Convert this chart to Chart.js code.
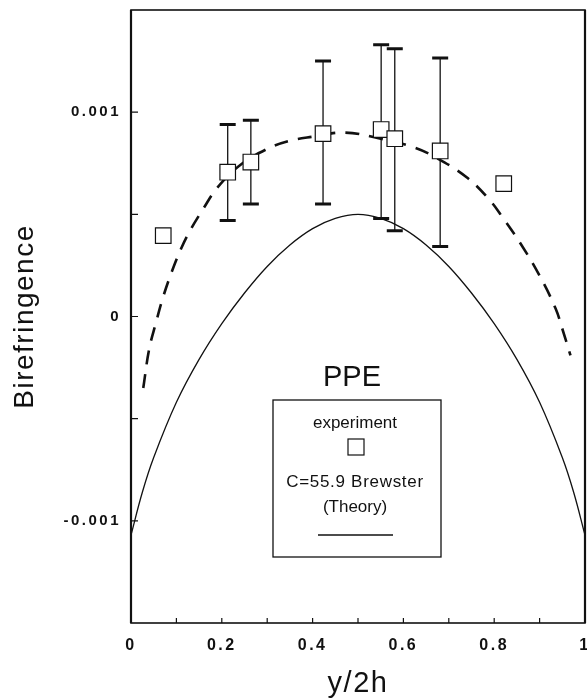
<!DOCTYPE html>
<html>
<head>
<meta charset="utf-8">
<script src="https://cdn.jsdelivr.net/npm/chart.js@4/dist/chart.umd.min.js"></script>
<style>
  html, body { margin: 0; padding: 0; background: #fff; }
  #wrap { width: 587px; height: 700px; }
</style>
</head>
<body>
<div id="wrap"><canvas id="biChart" width="587" height="700"></canvas></div>
<script>
// experiment: birefringence across the gap, with error bars where measured
const expX = [0.071, 0.213, 0.264, 0.423, 0.551, 0.581, 0.681, 0.821];
const expY = [0.000396, 0.000706, 0.000756, 0.000895, 0.000915, 0.00087, 0.00081, 0.00065];
const errLow = [null, 0.00047, 0.00055, 0.00055, 0.00048, 0.00042, 0.000343, null];
const errHigh = [null, 0.00094, 0.00096, 0.00125, 0.00133, 0.00131, 0.001265, null];

// Brewster theory curve, C = 55.9
const theoryX = [0, 0.025, 0.05, 0.1, 0.15, 0.2, 0.25, 0.3, 0.35, 0.4, 0.45, 0.5,
                 0.55, 0.6, 0.65, 0.7, 0.75, 0.8, 0.85, 0.9, 0.95, 0.975, 1];
const theoryY = [-0.00107, -0.00086, -0.00069, -0.00042, -0.00021, -0.000035, 0.000115, 0.000245,
                 0.00035, 0.00043, 0.00048, 0.0005, 0.00048, 0.00043, 0.00035, 0.000245, 0.000115,
                 -0.000035, -0.00021, -0.00042, -0.00069, -0.00086, -0.00107];

// dashed fit through the experiment
const fitX = [0.027, 0.04, 0.055, 0.07, 0.09, 0.11, 0.13, 0.16, 0.19, 0.24, 0.3, 0.35, 0.4, 0.47,
              0.55, 0.62, 0.67, 0.74, 0.79, 0.82, 0.86, 0.9, 0.935, 0.95, 0.968];
const fitY = [-0.00035, -0.00016, -0.00003, 0.00009, 0.00022, 0.00033, 0.00042, 0.00053, 0.00063,
              0.00074, 0.00082, 0.00086, 0.00088, 0.0009, 0.00087, 0.00083, 0.00078, 0.00068,
              0.00057, 0.00048, 0.00035, 0.0002, 0.00004, -0.00006, -0.00019];

const xTickValues = [0, 0.2, 0.4, 0.6, 0.8, 1];
const xTickLabels = ['0', '0.2', '0.4', '0.6', '0.8', '1'];
const yTickValues = [-0.001, 0, 0.001];
const yTickLabels = ['-0.001', '0', '0.001'];
const xTickMarks = [0.1, 0.2, 0.3, 0.4, 0.5, 0.6, 0.7, 0.8, 0.9];
const yTickMarks = [-0.001, -0.0005, 0, 0.0005, 0.001];

const ink = '#111';
const FONT = '"Liberation Sans", Arial, Helvetica, sans-serif';

const pts = (xs, ys) => xs.map((x, i) => ({ x: x, y: ys[i] }));

// frame, inward ticks, error bars and the boxed key
const decor = {
    id: 'decor',
    beforeDraw(chart) {
        chart.ctx.letterSpacing = '1.5px';
    },
    beforeDatasetsDraw(chart) {
        const { ctx, scales: { x, y } } = chart;
        ctx.save();
        ctx.letterSpacing = '0px';
        ctx.strokeStyle = ink;
        expX.forEach((xv, i) => {
            if (errLow[i] == null) return;
            const px = x.getPixelForValue(xv);
            const top = y.getPixelForValue(errHigh[i]);
            const bot = y.getPixelForValue(errLow[i]);
            ctx.lineWidth = 1.3;
            ctx.beginPath();
            ctx.moveTo(px, top);
            ctx.lineTo(px, bot);
            ctx.stroke();
            ctx.lineWidth = 3;
            ctx.beginPath();
            ctx.moveTo(px - 8, top); ctx.lineTo(px + 8, top);
            ctx.moveTo(px - 8, bot); ctx.lineTo(px + 8, bot);
            ctx.stroke();
        });
        ctx.restore();
    },
    afterDatasetsDraw(chart) {
        chart.ctx.letterSpacing = '2.5px';
    },
    afterDraw(chart) {
        const { ctx, chartArea: a, scales: { x, y } } = chart;
        ctx.letterSpacing = '0px';
        ctx.save();
        ctx.strokeStyle = ink;
        ctx.fillStyle = ink;

        // plot frame
        ctx.lineWidth = 1.6;
        ctx.strokeRect(a.left, a.top, a.right - a.left, a.bottom - a.top);
        ctx.lineWidth = 2.2;
        ctx.beginPath();
        ctx.moveTo(a.left, a.top); ctx.lineTo(a.left, a.bottom);
        ctx.moveTo(a.right, a.top); ctx.lineTo(a.right, a.bottom);
        ctx.stroke();

        // tick marks pointing into the plot
        ctx.lineWidth = 1.2;
        ctx.beginPath();
        xTickMarks.forEach(v => {
            const px = x.getPixelForValue(v);
            ctx.moveTo(px, a.bottom); ctx.lineTo(px, a.bottom - 5);
        });
        yTickMarks.forEach(v => {
            const py = y.getPixelForValue(v);
            ctx.moveTo(a.left, py); ctx.lineTo(a.left + 7, py);
        });
        ctx.stroke();

        // key
        ctx.textAlign = 'center';
        ctx.textBaseline = 'middle';
        ctx.font = '29px ' + FONT;
        ctx.fillText('PPE', 352, 378);

        ctx.lineWidth = 1.3;
        ctx.strokeRect(273, 400, 168, 157);

        ctx.font = '17px ' + FONT;
        ctx.fillText('experiment', 355, 423);
        ctx.lineWidth = 1.2;
        ctx.strokeRect(348, 439, 16, 16);
        ctx.letterSpacing = '0.7px';
        ctx.fillText('C=55.9 Brewster', 355, 482);
        ctx.letterSpacing = '0px';
        ctx.fillText('(Theory)', 355, 507);
        ctx.lineWidth = 1.3;
        ctx.beginPath();
        ctx.moveTo(318, 535); ctx.lineTo(393, 535);
        ctx.stroke();
        ctx.restore();
    }
};

new Chart(document.getElementById('biChart'), {
    type: 'line',
    data: {
        datasets: [
            {
                label: 'experiment',
                data: pts(expX, expY),
                showLine: false,
                pointStyle: 'rect',
                pointRadius: 11,
                pointBorderWidth: 1.2,
                pointBorderColor: ink,
                pointBackgroundColor: '#fff'
            },
            {
                label: 'C=55.9 Brewster (Theory)',
                data: pts(theoryX, theoryY),
                borderColor: ink,
                borderWidth: 1.3,
                pointRadius: 0,
                tension: 0.4
            },
            {
                label: 'fit',
                data: pts(fitX, fitY),
                borderColor: ink,
                borderWidth: 2.6,
                borderDash: [14, 10],
                pointRadius: 0,
                tension: 0.4
            }
        ]
    },
    options: {
        responsive: false,
        animation: false,
        devicePixelRatio: 1,
        layout: { autoPadding: false, padding: { top: 10, right: 2, left: 0, bottom: 0 } },
        plugins: { legend: { display: false }, tooltip: { enabled: false } },
        scales: {
            x: {
                type: 'linear', min: 0, max: 1,
                afterBuildTicks: s => { s.ticks = xTickValues.map(v => ({ value: v })); },
                afterFit: s => { s.height = 77; s.paddingLeft = 0; s.paddingRight = 0; },
                grid: { display: false, drawTicks: false },
                border: { display: false },
                ticks: {
                    z: 1, padding: 13, color: ink, maxRotation: 0, autoSkip: false,
                    font: { family: FONT, size: 16, weight: 'bold' },
                    callback: (v, i) => xTickLabels[i]
                },
                title: {
                    display: true, text: 'y/2h', color: ink,
                    font: { family: FONT, size: 29, lineHeight: 1 },
                    padding: { top: 0, bottom: 2 }
                }
            },
            y: {
                min: -0.0015, max: 0.0015,
                afterBuildTicks: s => { s.ticks = yTickValues.map(v => ({ value: v })); },
                afterFit: s => { s.width = 131; s.paddingTop = 0; s.paddingBottom = 0; },
                grid: { display: false, drawTicks: false },
                border: { display: false },
                ticks: {
                    z: 1, padding: 10, color: ink,
                    font: { family: FONT, size: 15, weight: 'bold' },
                    callback: (v, i) => yTickLabels[i]
                },
                title: {
                    display: true, text: 'Birefringence', color: ink,
                    font: { family: FONT, size: 28, lineHeight: 1 },
                    padding: { top: 11, bottom: 0 }
                }
            }
        }
    },
    plugins: [decor]
});
</script>
</body>
</html>
